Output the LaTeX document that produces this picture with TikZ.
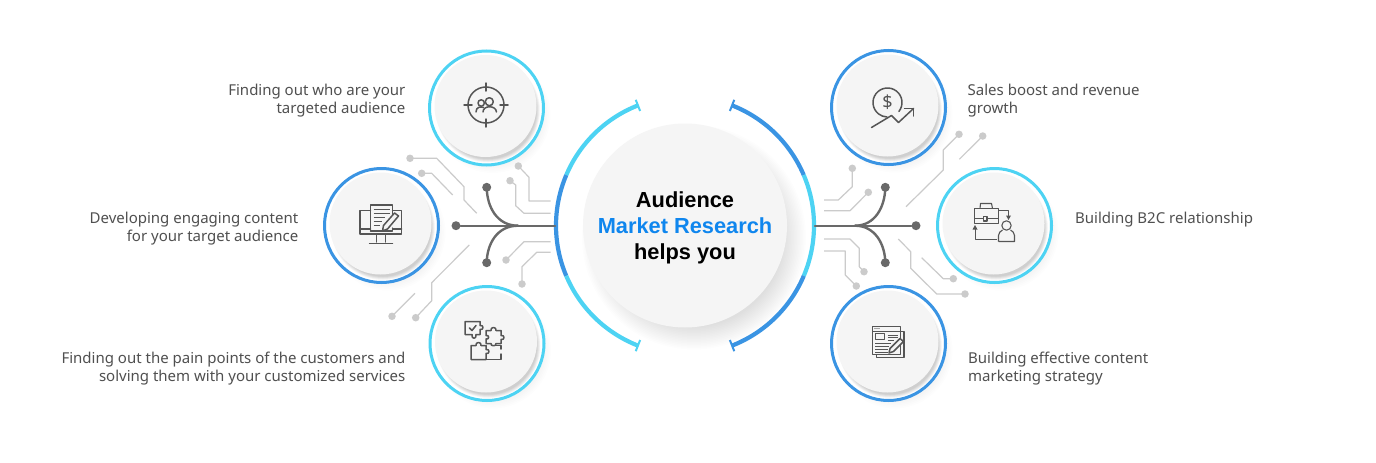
\documentclass[tikz,border=0pt]{standalone}
\usepackage{fontspec}
\setmainfont{Noto Sans}
\newfontfamily\titlefont{Liberation Sans}
\definecolor{lightring}{HTML}{4DD3F3}
\definecolor{darkring}{HTML}{3A94E3}
\definecolor{disc}{HTML}{F5F5F5}
\definecolor{trunk}{HTML}{696969}
\definecolor{wire}{HTML}{CBCBCB}
\definecolor{icon}{HTML}{555555}
\definecolor{label}{HTML}{505050}
\definecolor{heading}{HTML}{0F86EE}
\tikzset{
  trunkline/.style={draw=trunk,line width=2.4pt,line cap=round},
  trunkdot/.style={circle,fill=trunk,inner sep=0pt,minimum size=9pt},
  wireline/.style={draw=wire,line width=1.2pt,line join=round},
  wiredot/.style={circle,fill=wire,inner sep=0pt,minimum size=7.5pt},
  iconline/.style={draw=icon,line width=1.5pt,line join=round,line cap=round},
  thinicon/.style={draw=icon,line width=.9pt,line join=round},
  leftlabel/.style={anchor=east,align=right,inner sep=0pt,text=label,font=\fontsize{15}{18}\selectfont},
  rightlabel/.style={anchor=west,align=left,inner sep=0pt,text=label,font=\fontsize{15}{18}\selectfont},
  title/.style={font=\titlefont\fontsize{21.8}{26}\selectfont\bfseries,align=center,inner sep=0pt},
  ringdisc/.style={circle,inner sep=0pt,fill=disc},
}
\newcommand{\softshadow}[4]{% at, dx,dy, base radius
  \foreach \k in {0,...,9}{
    \fill[black,opacity=.008] ([shift={(#2pt,-#3pt)}]#1) circle[radius=#4pt+10pt-\k*1.6pt];
  }}
\newcommand{\smallround}[3]{% name, coordinate, colour
  \coordinate (#1c) at (#2);
  \softshadow{#1c}{6}{7}{48}
  \fill[white] (#1c) circle[radius=57pt];
  \draw[#3,line width=3pt] (#1c) circle[radius=57pt];
  \foreach \k in {0,...,7}{
    \fill[black,opacity=.022] ([shift={(1.5pt,-2.5pt)}]#1c) circle[radius=52pt-\k*.5pt];
  }
  \node[ringdisc,minimum size=102pt] (#1) at ([shift={(-1pt,2pt)}]#1c) {};
}
\begin{document}
\begin{tikzpicture}[x=1pt,y=-1pt]
\useasboundingbox (0,0) rectangle (1376,463);
\fill[white] (0,0) rectangle (1376,463);

% small discs
\smallround{tl}{486.5,108}{lightring}
\smallround{ml}{381.5,225.5}{darkring}
\smallround{bl}{487,343.5}{lightring}
\smallround{tr}{888.5,107.5}{darkring}
\smallround{mr}{994.5,225.5}{lightring}
\smallround{br}{888.5,343.5}{darkring}

% central disc
\coordinate (cc) at (685,225.5);
\foreach \k in {0,...,15}{
  \fill[black,opacity=.0095] ([shift={(9pt,-12pt)}]cc) circle[radius=112pt-\k*1.5pt];
}
\node[circle,fill=disc,inner sep=0pt,minimum size=204pt] (hub) at (cc) {};
\node[title,anchor=base] (t1) at (685,207) {Audience};
\node[title,anchor=base,text=heading] (t2) at (685,233) {Market Research};
\node[title,anchor=base] (t3) at (685,259) {helps you};

% outer arcs
\draw[lightring,line width=4.2pt] ([shift={(111.4:129pt)}]cc) arc[start angle=111.4,end angle=157,radius=129pt];
\draw[darkring,line width=4.2pt] ([shift={(157:129pt)}]cc) arc[start angle=157,end angle=203,radius=129pt];
\draw[lightring,line width=4.2pt] ([shift={(203:129pt)}]cc) arc[start angle=203,end angle=248.6,radius=129pt];
\draw[darkring,line width=4.2pt] ([shift={(68.6:129pt)}]cc) arc[start angle=68.6,end angle=23,radius=129pt];
\draw[lightring,line width=4.2pt] ([shift={(23:129pt)}]cc) arc[start angle=23,end angle=-23,radius=129pt];
\draw[darkring,line width=4.2pt] ([shift={(-23:129pt)}]cc) arc[start angle=-23,end angle=-68.6,radius=129pt];
\draw[lightring,line width=2pt] ([shift={(111.4:123pt)}]cc) -- ([shift={(111.4:135pt)}]cc);
\draw[lightring,line width=2pt] ([shift={(248.6:123pt)}]cc) -- ([shift={(248.6:135pt)}]cc);
\draw[darkring,line width=2pt] ([shift={(68.6:123pt)}]cc) -- ([shift={(68.6:135pt)}]cc);
\draw[darkring,line width=2pt] ([shift={(-68.6:123pt)}]cc) -- ([shift={(-68.6:135pt)}]cc);

% left trunk
\node[trunkdot] (ld0) at (456,225.7) {};
\node[trunkdot] (ld1) at (486.7,187.3) {};
\node[trunkdot] (ld2) at (486.7,262.7) {};
\coordinate (la) at (555,225.7);
\coordinate (lj) at (518,225.7);
\draw[trunkline] (ld0) -- (la);
\draw[trunkline] (ld1.center) .. controls (487,207) and (497,225.7) .. (lj);
\draw[trunkline] (ld2.center) .. controls (487,244) and (497,225.7) .. (lj);
% right trunk
\node[trunkdot] (rd0) at (916,225.7) {};
\node[trunkdot] (rd1) at (885.3,187.3) {};
\node[trunkdot] (rd2) at (885.3,262.7) {};
\coordinate (ra) at (815,225.7);
\coordinate (rj) at (855,225.7);
\draw[trunkline] (rd0) -- (ra);
\draw[trunkline] (rd1.center) .. controls (885,207) and (875,225.7) .. (rj);
\draw[trunkline] (rd2.center) .. controls (885,244) and (875,225.7) .. (rj);

% left wires
\node[wiredot] (wa) at (410,158.3) {};
\coordinate (wa1) at (476.7,213.3);
\draw[wireline] (wa.center) -- (436.7,158.3) -- (464,186.7) -- (464,200) -- (wa1);
\node[wiredot] (wb) at (421.7,173.3) {};
\coordinate (wb1) at (452.7,195);
\draw[wireline] (wb.center) -- (431.7,173.3) -- (wb1);
\node[wiredot] (wc) at (518.3,166) {};
\coordinate (wc1) at (550.7,201);
\draw[wireline] (wc.center) -- (529,177.3) -- (529,201) -- (wc1);
\node[wiredot] (wd) at (510,180.7) {};
\coordinate (wd1) at (550.7,213.3);
\draw[wireline] (wd.center) -- (515.7,185) -- (515.7,205.7) -- (524,213.3) -- (wd1);
\node[wiredot] (we) at (506,260) {};
\coordinate (we1) at (550.7,241.7);
\draw[wireline] (we.center) -- (524,241.7) -- (we1);
\node[wiredot] (wf) at (522,284) {};
\coordinate (wf1) at (550.7,252.3);
\draw[wireline] (wf.center) -- (522,266.7) -- (536.7,252.3) -- (wf1);
\node[wiredot] (wg) at (415.7,317.7) {};
\coordinate (wg1) at (469.3,245);
\draw[wireline] (wg.center) -- (431.7,300.7) -- (431.7,282.7) -- (wg1);
\node[wiredot] (wh) at (392,316.3) {};
\coordinate (wh1) at (415,293.3);
\draw[wireline] (wh.center) -- (wh1);

% right wires
\node[wiredot] (xa) at (852.3,168.3) {};
\coordinate (xa1) at (824,200);
\draw[wireline] (xa.center) -- (852.3,186.7) -- (838.3,200) -- (xa1);
\node[wiredot] (xb) at (868.3,192.3) {};
\coordinate (xb1) at (824,210.7);
\draw[wireline] (xb.center) -- (850,210.7) -- (xb1);
\node[wiredot] (xc) at (864,271.7) {};
\coordinate (xc1) at (824,239);
\draw[wireline] (xc.center) -- (859.3,266.7) -- (859.3,248.3) -- (850,239) -- (xc1);
\node[wiredot] (xd) at (856.3,286) {};
\coordinate (xd1) at (824,251);
\draw[wireline] (xd.center) -- (845.3,275) -- (845.3,251) -- (xd1);
\node[wiredot] (xe) at (959,134.3) {};
\coordinate (xe1) at (906,206.7);
\draw[wireline] (xe.center) -- (943.3,150) -- (943.3,170) -- (xe1);
\node[wiredot] (xf) at (982.7,136) {};
\coordinate (xf1) at (959.3,159.3);
\draw[wireline] (xf.center) -- (xf1);
\node[wiredot] (xg) at (965,294) {};
\coordinate (xg1) at (898.3,239);
\draw[wireline] (xg.center) -- (936.7,294) -- (910.7,268.3) -- (910.7,251.7) -- (xg1);
\node[wiredot] (xh) at (953.3,278.7) {};
\coordinate (xh1) at (921.7,257.7);
\draw[wireline] (xh.center) -- (943.3,278.7) -- (xh1);

% labels
\node[leftlabel] (l1) at (405.5,100.8) {Finding out who are your\\targeted audience};
\node[leftlabel] (l2) at (298.5,228.8) {Developing engaging content\\for your target audience};
\node[leftlabel] (l3) at (405.5,368.8) {Finding out the pain points of the customers and\\solving them with your customized services};
\node[rightlabel] (r1) at (967.5,100.8) {Sales boost and revenue\\growth};
\node[rightlabel] (r2) at (1075,219.8) {Building B2C relationship};
\node[rightlabel] (r3) at (968,368.8) {Building effective content\\marketing strategy};

% icon: target with people
\begin{scope}[shift={(486,105)}]
  \draw[iconline] (0,0) circle[radius=18pt];
  \draw[iconline] (-22,0) -- (-14,0) (14,0) -- (22,0) (0,-22) -- (0,-14) (0,14) -- (0,22);
  \draw[iconline] (3.3,-3.3) circle[radius=4pt];
  \draw[iconline] (-4.8,-2) circle[radius=3.2pt];
  \draw[iconline] (-3,7) .. controls (-3,0) and (10,0) .. (10.5,7);
  \draw[iconline] (-10,7) .. controls (-10,1.5) and (-5,1.5) .. (-2.5,2.5);
\end{scope}

% icon: monitor and document
\begin{scope}[shift={(381.5,226)}]
  \draw[iconline] (-11,-15.5) -- (-21.5,-15.5) -- (-21.5,8) -- (20,8) -- (20,-15.5) -- (11,-15.5);
  \draw[iconline] (-21.5,3) -- (-11,3) (11,3) -- (20,3);
  \draw[iconline] (-5,8) -- (-5,16) (4,8) -- (4,16) (-12,17.5) -- (11,17.5);
  \draw[iconline] (-11,5) -- (-11,-21) -- (11,-21) -- (11,-10) (11,2) -- (11,5) -- (-11,5);
  \draw[thinicon] (-8,-17) -- (8,-17) (-8,-13) -- (8,-13) (-8,-9) -- (3,-9) (-8,-5) -- (0,-5) (-8,-1) -- (-2,-1);
  \draw[iconline,fill=disc] (13,-13) -- (17,-10) -- (6,3) -- (1,5) -- (2,-.5) -- cycle;
\end{scope}

% icon: puzzle
\begin{scope}[shift={(487,343.5)}]
  \draw[iconline] (-22,-22) -- (-7,-22) -- (-7,-18) .. controls (-3,-19) and (-3,-13) .. (-7,-14) -- (-7,-9) -- (-11,-9) .. controls (-10,-4) and (-16,-4) .. (-15,-9) -- (-22,-9) -- cycle;
  \draw[iconline] (-17.5,-15.5) -- (-15,-13) -- (-11,-18);
  \draw[iconline] (-1,-13) -- (4,-13) .. controls (3,-17) and (10,-17) .. (9,-13) -- (14,-13) -- (14,-8) .. controls (18,-9) and (18,-3) .. (14,-4) -- (14,0) -- (9,0) .. controls (10,3) and (3,3) .. (4,0) -- (-1,0) -- (-1,-4.5) .. controls (2.5,-3.5) and (2.5,-9) .. (-1,-8) -- cycle;
  \draw[iconline] (-16,2) -- (-11,2) .. controls (-12,-2) and (-5,-2) .. (-6,2) -- (-1,2) -- (-1,6) .. controls (3,5) and (3,11) .. (-1,10) -- (-1,16) -- (-16,16) -- cycle;
  \draw[iconline] (-1,16) -- (14,16) -- (14,10.5) (14,5.5) -- (14,2) -- (9,2);
\end{scope}

% icon: dollar and rising arrow
\begin{scope}[shift={(888.5,107.5)}]
  \draw[iconline] ([shift={(-38:14.5pt)}]-1,-5) arc[start angle=-38,end angle=268,radius=14.5pt];
  \node[text=icon,inner sep=0pt,font=\fontsize{18}{18}\selectfont] (dollar) at (-1,-5) {\$};
  \draw[iconline] (-17,20) -- (3,8) -- (10,15) -- (25,1);
  \draw[iconline] (16,1) -- (25,1) -- (25,8.5);
\end{scope}

% icon: briefcase and person
\begin{scope}[shift={(994.5,225.5)}]
  \draw[thinicon,line width=1.1pt] (-20,-17) rectangle (4,-2);
  \draw[thinicon,line width=1.1pt] (-20,-7) -- (-11,-7) (-7.5,-7) -- (4,-7);
  \draw[thinicon,line width=1.1pt] (-11,-9) rectangle (-7.5,-4.5);
  \draw[thinicon,line width=1.1pt] (-14.5,-17) -- (-14,-22) -- (-3,-22) -- (-2,-17);
  \draw[thinicon] (4,-15) -- (14,-15) -- (14,-9);
  \fill[icon] (11.5,-10) -- (16.5,-10) -- (14,-5.5) -- cycle;
  \draw[thinicon,line width=1.1pt] (12,0) circle[radius=4.7pt];
  \draw[thinicon,line width=1.1pt] (4,16) -- (4,10) .. controls (4,7) and (6,6) .. (8,4.5) (16,4.5) .. controls (18,6) and (20,7) .. (20,10) -- (20,16) -- (4,16);
  \draw[thinicon] (2,14) -- (-19.5,14) -- (-19.5,3);
  \fill[icon] (-22,4) -- (-17,4) -- (-19.5,-.5) -- cycle;
\end{scope}

% icon: web page and pen
\begin{scope}[shift={(888.5,343.5)}]
  \draw[iconline] (13,-12) -- (15.5,-12) -- (15.5,14) -- (-12,14) -- (-12,11);
  \draw[iconline,fill=disc] (-16,-17) rectangle (12,11);
  \draw[thinicon] (-16,-12.5) -- (12,-12.5);
  \fill[icon] (-13.5,-15) circle[radius=.6pt] (-11.5,-15) circle[radius=.6pt] (-9.5,-15) circle[radius=.6pt];
  \draw[thinicon] (-13.5,-10) rectangle (-4,-4);
  \draw[thinicon] (-1,-8.5) -- (9,-8.5) (-1,-6) -- (9,-6) (-1,-3.5) -- (5,-3.5) (-13.5,-.5) -- (2,-.5) (-13.5,2.5) -- (0,2.5) (-13.5,5.5) -- (-1,5.5) (-13.5,8.5) -- (-1,8.5);
  \draw[iconline,fill=disc] (11.5,-5) -- (15,-2) -- (5,8) -- (.5,9.5) -- (1.5,5) -- cycle;
\end{scope}
\end{tikzpicture}
\end{document}
